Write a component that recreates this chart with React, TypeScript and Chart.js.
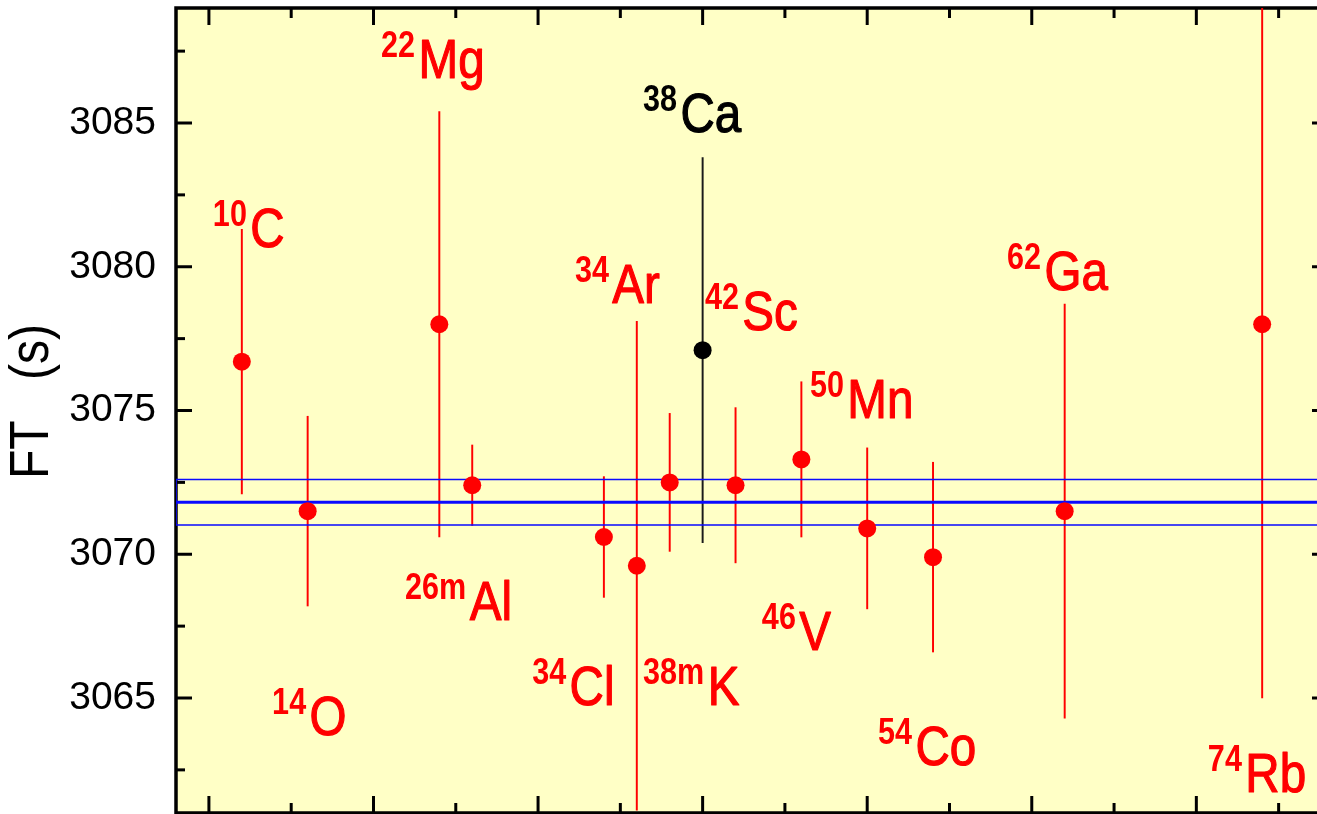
import React, { useEffect, useRef } from "react";
import { Chart, registerables } from "chart.js";

Chart.register(...registerables);

// ---- data ----
const MASS = ["10", "14", "22", "26m", "34", "34", "38m", "38", "42", "46", "50", "54", "62", "74"];
const SYMBOL = ["C", "O", "Mg", "Al", "Cl", "Ar", "K", "Ca", "Sc", "V", "Mn", "Co", "Ga", "Rb"];
const Z_PARENT = [6, 8, 12, 13, 17, 18, 19, 20, 21, 23, 25, 27, 31, 37];
const FT = [3076.7, 3071.5, 3078.0, 3072.4, 3070.6, 3069.6, 3072.5, 3077.1, 3072.4, 3073.3, 3070.9, 3069.9, 3071.5, 3078.0];
const FT_ERR = [4.6, 3.3, 7.4, 1.4, 2.1, 8.5, 2.4, 6.7, 2.7, 2.7, 2.8, 3.3, 7.2, 13.0];
const HIGHLIGHT = [false, false, false, false, false, false, false, true, false, false, false, false, false, false];
const LABEL_Z = [5.12, 6.92, 10.23, 10.96, 14.82, 16.12, 18.19, 18.19, 20.07, 21.8, 23.26, 25.33, 29.25, 35.35];
const LABEL_FT = [3080.69, 3063.71, 3086.57, 3067.71, 3064.76, 3078.74, 3064.76, 3084.69, 3077.8, 3066.67, 3074.74, 3062.67, 3079.19, 3061.73];
const FT_MEAN = 3071.81;
const FT_MEAN_ERR = 0.79;
const X_MIN = 4;
const X_MAX = 39;
const Y_MIN = 3061;
const Y_MAX = 3089;
const Y_MAJOR = [3065, 3070, 3075, 3080, 3085];
const Y_MINOR = [3062.5, 3067.5, 3072.5, 3077.5, 3082.5, 3087.5];
const X_MAJOR = [5, 10, 15, 20, 25, 30, 35];
const X_MINOR = [7.5, 12.5, 17.5, 22.5, 27.5, 32.5, 37.5];
const Y_TITLE = "FT   (s)";

// ---- styles ----
const RED = "#ff0000";
const BLACK = "#000000";
const BLUE = "#0a0aff";
const BG = "#ffffc6";
const FONT = '"Liberation Sans", Arial, sans-serif';

const framePlugin = {
  id: "frame",
  beforeDraw(chart: any) {
    const { ctx, chartArea } = chart;
    const { left, right, top, bottom } = chartArea;
    ctx.save();
    ctx.fillStyle = BG;
    ctx.fillRect(left, top, right - left, bottom - top);
    ctx.restore();
  },
  beforeDatasetsDraw(chart: any) {
    const { ctx, chartArea, scales } = chart;
    const { left, right, top, bottom } = chartArea;
    const x = scales.x;
    const y = scales.y;
    ctx.save();
    ctx.strokeStyle = "#000";
    ctx.lineCap = "butt";
    ctx.lineWidth = 3;
    const seg = (x1: number, y1: number, x2: number, y2: number) => {
      ctx.beginPath();
      ctx.moveTo(x1, y1);
      ctx.lineTo(x2, y2);
      ctx.stroke();
    };
    X_MAJOR.forEach((v) => {
      const p = x.getPixelForValue(v);
      seg(p, top, p, top + 17);
      seg(p, bottom, p, bottom - 17);
    });
    X_MINOR.forEach((v) => {
      const p = x.getPixelForValue(v);
      seg(p, top, p, top + 10);
      seg(p, bottom, p, bottom - 10);
    });
    Y_MAJOR.forEach((v) => {
      const p = y.getPixelForValue(v);
      seg(left, p, left + 16, p);
      seg(right, p, right - 16, p);
    });
    Y_MINOR.forEach((v) => {
      const p = y.getPixelForValue(v);
      seg(left, p, left + 9, p);
      seg(right, p, right - 9, p);
    });
    ctx.lineWidth = 3.5;
    ctx.beginPath();
    ctx.moveTo(right, top);
    ctx.lineTo(left, top);
    ctx.lineTo(left, bottom);
    ctx.lineTo(right, bottom);
    ctx.lineTo(right, top);
    ctx.stroke();
    ctx.restore();
  },
  afterDatasetsDraw(chart: any) {
    const { ctx, chartArea, scales } = chart;
    const x = scales.x;
    const y = scales.y;
    ctx.save();
    // axis title
    ctx.save();
    ctx.translate(33, (chartArea.top + chartArea.bottom) / 2 - 9);
    ctx.rotate(-Math.PI / 2);
    ctx.scale(0.86, 1);
    ctx.fillStyle = "#000";
    ctx.font = `56px ${FONT}`;
    ctx.textAlign = "center";
    ctx.textBaseline = "middle";
    ctx.fillText(Y_TITLE, 0, 0);
    ctx.restore();
    // nuclide labels
    for (let i = 0; i < MASS.length; i++) {
      const px = x.getPixelForValue(LABEL_Z[i]);
      const py = y.getPixelForValue(LABEL_FT[i]);
      ctx.save();
      ctx.translate(px, py);
      ctx.scale(0.85, 1);
      ctx.fillStyle = HIGHLIGHT[i] ? BLACK : RED;
      ctx.strokeStyle = ctx.fillStyle;
      ctx.lineJoin = "round";
      ctx.textAlign = "left";
      ctx.textBaseline = "alphabetic";
      ctx.font = `bold 36px ${FONT}`;
      ctx.fillText(MASS[i], 0, -21);
      const w = ctx.measureText(MASS[i]).width;
      ctx.font = `56px ${FONT}`;
      ctx.lineWidth = 1.2;
      ctx.fillText(SYMBOL[i], w + 4, 0);
      ctx.strokeText(SYMBOL[i], w + 4, 0);
      ctx.restore();
    }
    ctx.restore();
  },
};

export default function App() {
  const ref = useRef<HTMLCanvasElement>(null);
  useEffect(() => {
    const canvas = ref.current;
    if (!canvas) return;
    const colors = HIGHLIGHT.map((h) => (h ? BLACK : RED));
    const barColors = HIGHLIGHT.map((h) => (h ? "#1a1a1a" : RED));
    const hi = FT_MEAN + FT_MEAN_ERR;
    const lo = FT_MEAN - FT_MEAN_ERR;
    const chart = new Chart(canvas, {
      type: "scatter",
      data: {
        datasets: [
          {
            type: "scatter",
            data: Z_PARENT.map((z, i) => ({ x: z, y: FT[i] })),
            pointRadius: 9,
            pointHoverRadius: 9,
            backgroundColor: colors,
            borderWidth: 0,
            order: 0,
          } as any,
          {
            type: "line",
            data: [
              { x: X_MIN, y: FT_MEAN },
              { x: X_MAX, y: FT_MEAN },
            ],
            borderColor: BLUE,
            borderWidth: 3,
            pointRadius: 0,
            fill: false,
            order: 1,
          } as any,
          {
            type: "line",
            data: [
              { x: X_MAX, y: hi },
              { x: X_MIN, y: hi },
              { x: X_MIN, y: lo },
              { x: X_MAX, y: lo },
            ],
            borderColor: BLUE,
            borderWidth: 1.6,
            pointRadius: 0,
            fill: false,
            tension: 0,
            order: 1,
          } as any,
          {
            type: "bar",
            data: Z_PARENT.map((z, i) => ({ x: z, y: [FT[i] - FT_ERR[i], FT[i] + FT_ERR[i]] })),
            backgroundColor: barColors,
            borderWidth: 0,
            barThickness: 1.3,
            grouped: false,
            order: 2,
          } as any,
        ],
      },
      plugins: [framePlugin],
      options: {
        responsive: false,
        maintainAspectRatio: false,
        devicePixelRatio: 1,
        animation: false,
        events: [],
        layout: { autoPadding: false, padding: { left: 0, right: 12, top: 8, bottom: 1 } },
        plugins: {
          legend: { display: false },
          tooltip: { enabled: false },
          title: { display: false },
        },
        scales: {
          x: {
            type: "linear",
            min: X_MIN,
            max: X_MAX,
            offset: false,
            display: false,
          },
          y: {
            type: "linear",
            min: Y_MIN,
            max: Y_MAX,
            beginAtZero: false,
            afterBuildTicks: (s: any) => {
              s.ticks = Y_MAJOR.map((v) => ({ value: v }));
            },
            afterFit: (s: any) => {
              s.width = 176;
              s.paddingTop = 0;
              s.paddingBottom = 0;
            },
            grid: { display: false, drawTicks: false },
            border: { display: false },
            ticks: {
              padding: 20,
              color: "#000",
              font: { family: FONT, size: 39 },
              callback: (v: any) => String(v),
            },
            title: { display: false },
          },
        },
      } as any,
    });
    return () => chart.destroy();
  }, []);

  return (
    <div
      style={{
        position: "fixed",
        left: 0,
        top: 0,
        width: 1317,
        height: 814,
        overflow: "hidden",
        background: "#fff",
      }}
    >
      <canvas ref={ref} width={1340} height={814} style={{ display: "block", width: 1340, height: 814 }} />
    </div>
  );
}
